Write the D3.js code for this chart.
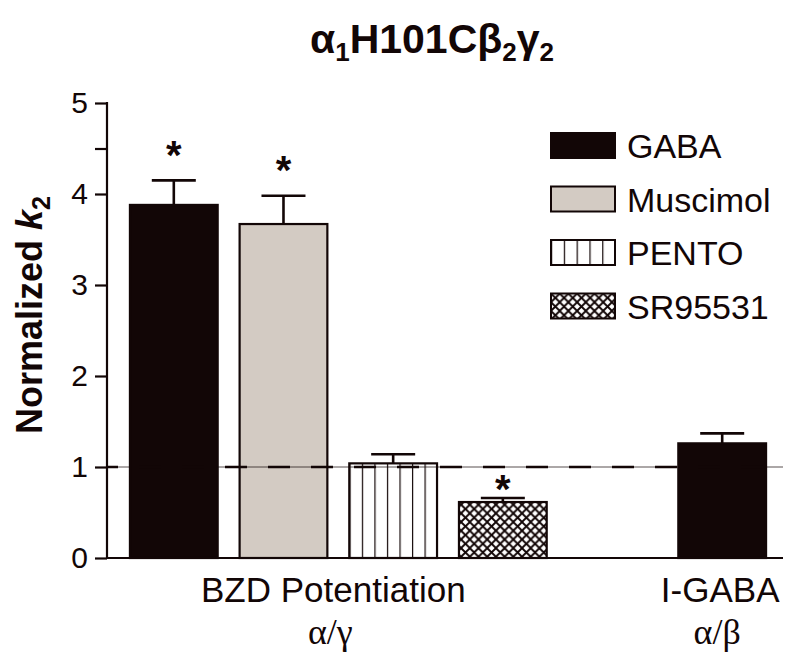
<!DOCTYPE html>
<html>
<head>
<meta charset="utf-8">
<script src="https://cdn.jsdelivr.net/npm/d3@7"></script>
<style>
  body { margin: 0; background: #fff; }
  svg { display: block; }
</style>
</head>
<body>
<div id="chart"></div>
<script>
// slots along the x axis (one empty slot between the two groups)
const slots = ["GABA", "Muscimol", "PENTO", "SR95531", "gap", "I-GABA"];
// bars
const barSlots = ["GABA", "Muscimol", "PENTO", "SR95531", "I-GABA"];
const barValues = [3.88, 3.67, 1.04, 0.615, 1.26];
const barErrors = [0.27, 0.31, 0.10, 0.045, 0.11];
const barDrug = ["GABA", "Muscimol", "PENTO", "SR95531", "GABA"];
// significance stars (y in data units, null = none)
const starY = [4.52, 4.35, null, 0.85, null];
// legend
const legendLabels = ["GABA", "Muscimol", "PENTO", "SR95531"];
// y ticks
const yTicks = [0, 1, 2, 3, 4, 4.5, 5];
const yTickLabels = ["0", "1", "2", "3", "4", "", "5"];
const refValue = 1;
// group labels
const groupLabels = [
  { from: "GABA", to: "SR95531", name: "BZD Potentiation", sub: "α/γ" },
  { from: "I-GABA", to: "I-GABA", name: "I-GABA", sub: "α/β" }
];

const W = 800, H = 672;
const INK = "#120606";
const SANS = "'Liberation Sans', Arial, Helvetica, sans-serif";
const SERIF = "'Liberation Serif', 'Times New Roman', serif";

const svg = d3.select("#chart").append("svg")
  .attr("width", W).attr("height", H);

const defs = svg.append("defs");

// vertical lines pattern (bar: 7 cells, legend: 5 cells)
function vlines(id, n) {
  const p = defs.append("pattern")
    .attr("id", id)
    .attr("patternUnits", "objectBoundingBox")
    .attr("width", 1 / n).attr("height", 1);
  p.append("rect").attr("width", 200).attr("height", 2000).attr("fill", "#fff");
  p.append("line").attr("x1", 0).attr("x2", 0).attr("y1", 0).attr("y2", 2000)
    .attr("stroke", INK).attr("stroke-width", 2.4);
}
vlines("vl-bar", 7);
vlines("vl-leg", 5);

// cross hatch pattern
const ch = defs.append("pattern")
  .attr("id", "xhatch")
  .attr("patternUnits", "userSpaceOnUse")
  .attr("width", 8.7).attr("height", 8.7);
ch.append("rect").attr("width", 8.7).attr("height", 8.7).attr("fill", "#fff");
ch.append("path").attr("d", "M-1,-1L9.7,9.7M9.7,-1L-1,9.7")
  .attr("stroke", INK).attr("stroke-width", 1.9);

const fills = {
  "GABA": INK,
  "Muscimol": "#d3cbc3",
  "PENTO": "url(#vl-bar)",
  "SR95531": "url(#xhatch)"
};
const legendFills = {
  "GABA": INK,
  "Muscimol": "#d3cbc3",
  "PENTO": "url(#vl-leg)",
  "SR95531": "url(#xhatch)"
};

// scales
const y = d3.scaleLinear().domain([0, 5]).range([558, 103]);
const x = d3.scaleBand().domain(slots).range([108, 788])
  .paddingInner(0.2).paddingOuter(0.2);
const axisX0 = 107, axisX1 = 783;

// title
const title = svg.append("text")
  .attr("x", 432).attr("y", 53)
  .attr("text-anchor", "middle")
  .attr("font-family", SANS).attr("font-weight", "bold")
  .attr("font-size", 41).attr("fill", INK);
[["α", 0], ["1", 1], ["H101Cβ", 0], ["2", 1], ["γ", 0], ["2", 1]].forEach(([t, sub], i, arr) => {
  const ts = title.append("tspan").text(t);
  if (sub) ts.attr("font-size", 26).attr("dy", 8);
  else if (i > 0 && arr[i - 1][1]) ts.attr("dy", -8);
});

// y axis label
const yl = svg.append("text")
  .attr("transform", "translate(42,315) rotate(-90)")
  .attr("text-anchor", "middle")
  .attr("font-family", SANS).attr("font-weight", "bold")
  .attr("font-size", 36).attr("fill", INK);
yl.append("tspan").text("Normalized ");
yl.append("tspan").text("k").attr("font-style", "italic");
yl.append("tspan").text("2").attr("font-size", 25).attr("dy", 8);

// bars
const bars = svg.append("g").selectAll("g")
  .data(barSlots.map((s, i) => ({ s, v: barValues[i], e: barErrors[i], d: barDrug[i], star: starY[i] })))
  .join("g");

// error bars (upper only)
bars.append("line")
  .attr("x1", d => x(d.s) + x.bandwidth() / 2)
  .attr("x2", d => x(d.s) + x.bandwidth() / 2)
  .attr("y1", d => y(d.v)).attr("y2", d => y(d.v + d.e))
  .attr("stroke", INK).attr("stroke-width", 2.6);
bars.append("line")
  .attr("x1", d => x(d.s) + x.bandwidth() / 2 - 22)
  .attr("x2", d => x(d.s) + x.bandwidth() / 2 + 22)
  .attr("y1", d => y(d.v + d.e)).attr("y2", d => y(d.v + d.e))
  .attr("stroke", INK).attr("stroke-width", 2.6);

bars.append("rect")
  .attr("x", d => x(d.s))
  .attr("y", d => y(d.v))
  .attr("width", x.bandwidth())
  .attr("height", d => y(0) - y(d.v))
  .attr("fill", d => fills[d.d])
  .attr("stroke", INK).attr("stroke-width", 2.2);

bars.filter(d => d.star != null).append("text")
  .attr("x", d => x(d.s) + x.bandwidth() / 2)
  .attr("y", d => y(d.star) + 22)
  .attr("text-anchor", "middle")
  .attr("font-family", SANS).attr("font-weight", "bold")
  .attr("font-size", 40).attr("fill", INK)
  .text("*");

// reference line at 1: thin solid + dashes
svg.append("line")
  .attr("x1", axisX0).attr("x2", axisX1)
  .attr("y1", y(refValue)).attr("y2", y(refValue))
  .attr("stroke", INK).attr("stroke-width", 1).attr("opacity", 0.7);
svg.append("line")
  .attr("x1", axisX0).attr("x2", axisX1)
  .attr("y1", y(refValue)).attr("y2", y(refValue))
  .attr("stroke", INK).attr("stroke-width", 2.6)
  .attr("stroke-dasharray", "22,21").attr("stroke-dashoffset", 11);

// axes
const yAxis = d3.axisLeft(y).tickValues(yTicks)
  .tickFormat((d, i) => yTickLabels[i]).tickSize(12).tickPadding(7);
const gy = svg.append("g").attr("transform", `translate(${axisX0},0)`).call(yAxis);
gy.select(".domain").remove();
gy.selectAll(".tick line").attr("stroke", INK).attr("stroke-width", 2.2);
gy.selectAll(".tick text").attr("font-family", SANS).attr("font-size", 30).attr("fill", INK);

svg.append("line").attr("x1", axisX0).attr("x2", axisX0)
  .attr("y1", y(5) - 1).attr("y2", y(0) + 1)
  .attr("stroke", INK).attr("stroke-width", 2.2);
svg.append("line").attr("x1", axisX0).attr("x2", axisX1)
  .attr("y1", y(0)).attr("y2", y(0))
  .attr("stroke", INK).attr("stroke-width", 2.2);

// group labels
groupLabels.forEach(g => {
  const cx = (x(g.from) + x(g.to) + x.bandwidth()) / 2 - (g.from === g.to ? 2 : 5);
  svg.append("text").attr("x", cx).attr("y", 602)
    .attr("text-anchor", "middle")
    .attr("font-family", SANS).attr("font-size", 35).attr("fill", INK)
    .text(g.name);
  svg.append("text").attr("x", cx - 3).attr("y", 644)
    .attr("text-anchor", "middle")
    .attr("font-family", SERIF).attr("font-size", 36).attr("fill", INK)
    .text(g.sub);
});

// legend
const leg = svg.append("g").selectAll("g")
  .data(legendLabels).join("g")
  .attr("transform", (d, i) => `translate(551,${133 + i * 53.5})`);
leg.append("rect")
  .attr("width", 64).attr("height", 25)
  .attr("fill", d => legendFills[d])
  .attr("stroke", INK).attr("stroke-width", 2);
leg.append("text")
  .attr("x", 76).attr("y", 25)
  .attr("font-family", SANS).attr("font-size", 34).attr("fill", INK)
  .text(d => d);
</script>
</body>
</html>
